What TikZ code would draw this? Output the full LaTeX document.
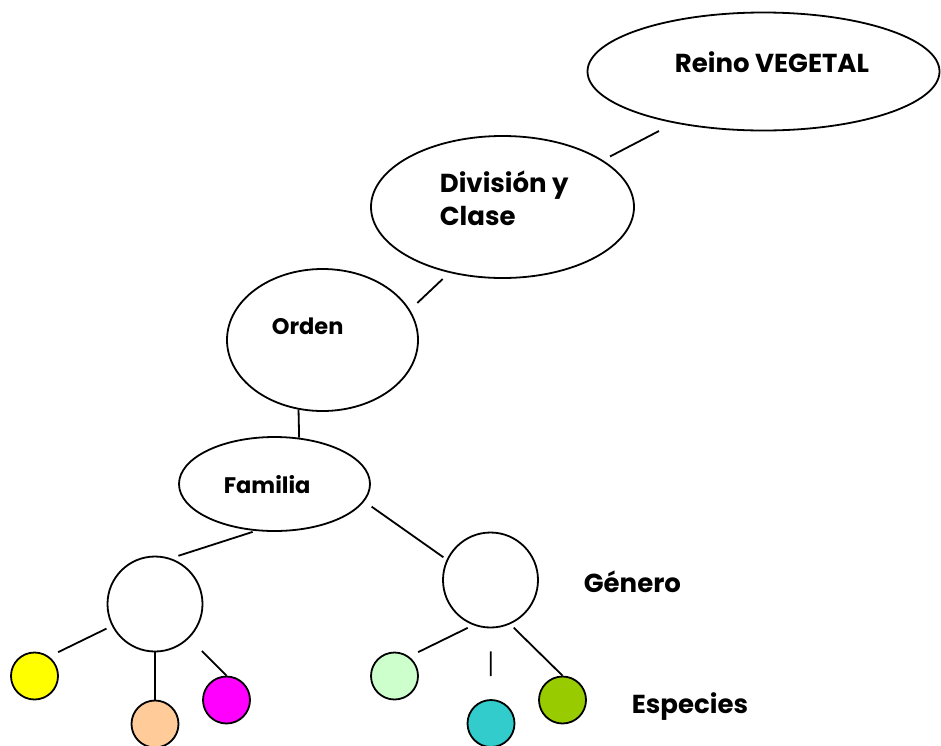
\documentclass[tikz,border=0pt]{standalone}
\usepackage{fontspec}
\setmainfont{Poppins}
\usepackage{tikz}
\usetikzlibrary{shapes.geometric}

\definecolor{amarillo}{HTML}{FFFF00}
\definecolor{durazno}{HTML}{FFCC99}
\definecolor{magenta}{HTML}{FF00FF}
\definecolor{verdeclaro}{HTML}{CCFFCC}
\definecolor{turquesa}{HTML}{33CCCC}
\definecolor{oliva}{HTML}{99CC00}

\begin{document}
\begin{tikzpicture}[x=1pt,y=-1pt,line width=1.8pt,
                nivel/.style={draw,ellipse,inner sep=0pt},
                genero/.style={draw,circle,inner sep=0pt,minimum size=95pt},
                especie/.style={draw,circle,inner sep=0pt,minimum size=47pt},
                rotulo/.style={anchor=base west,inner sep=0pt,font=\bfseries\fontsize{26}{30}\selectfont},
                rotulochico/.style={rotulo,font=\bfseries\fontsize{22.5}{26}\selectfont}]
                \useasboundingbox (0,0) rectangle (941,745);

                \node[nivel,minimum width=352pt,minimum height=118pt] (reino) at (763.5,71.5) {};
                \node[rotulo] (treino) at (674,72) {Reino VEGETAL};

                \node[nivel,minimum width=263pt,minimum height=142pt] (division) at (502.5,207) {};
                \node[rotulo] (tdivision) at (439,192) {División y};
                \node[rotulo] (tclase) at (439,225) {Clase};

                \node[nivel,minimum width=191pt,minimum height=142pt] (orden) at (322.5,340) {};
                \node[rotulochico] (torden) at (271,334) {Orden};

                \node[nivel,minimum width=191pt,minimum height=94pt] (familia) at (274.5,484) {};
                \node[rotulochico] (tfamilia) at (223,493) {Familia};

                \node[genero] (generoA) at (155,604) {};
                \node[genero] (generoB) at (490.5,580) {};
                \node[rotulo] (tgenero) at (583,592) {Género};

                \node[especie,fill=amarillo] (espA) at (34.5,676) {};
                \node[especie,fill=durazno] (espB) at (155,724) {};
                \node[especie,fill=magenta] (espC) at (226.5,700) {};
                \node[especie,fill=verdeclaro] (espD) at (394.5,676) {};
                \node[especie,fill=turquesa] (espE) at (491,723.5) {};
                \node[especie,fill=oliva] (espF) at (562.5,700) {};
                \node[rotulo] (tespecies) at (631,713) {Especies};

                \draw[shorten <=17pt,shorten >=8pt] (reino.210) -- (division.25);
                \draw[shorten <=9pt,shorten >=10pt] (division.231) -- (orden.19);
                \draw[] (orden.251) -- (familia.62);
                \draw[shorten <=3pt,shorten >=8pt] (familia.248) -- (generoA.71);
                \draw[shorten <=9pt,shorten >=4pt] (familia.349) -- (generoB.155);

                \draw[shorten <=6pt,shorten >=10pt] (generoA.207) -- (espA.53);
                \draw[] (generoA.270) -- (espB.90);
                \draw[shorten <=18pt] (generoA.315) -- (espC.90);

                \draw[shorten <=6pt,shorten >=10pt] (generoB.249) -- (espD.53);
                \draw[shorten <=23pt,shorten >=23pt] (generoB.270) -- (espE.90);
                \draw[shorten <=5pt] (generoB.294) -- (espF.90);
            \end{tikzpicture}
\end{document}
